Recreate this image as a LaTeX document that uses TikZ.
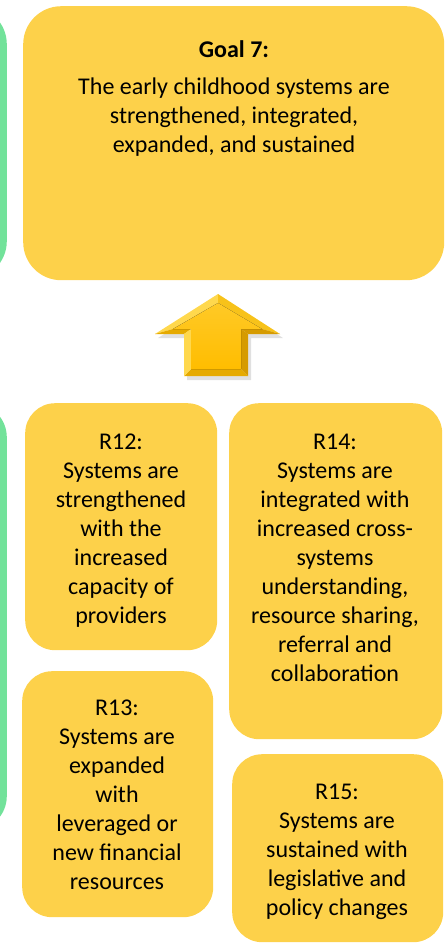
\documentclass[tikz,border=0pt]{standalone}
\usepackage{fontspec}
\setmainfont{Carlito}
\definecolor{boxyellow}{RGB}{253,209,74}
\definecolor{stripgreen}{RGB}{114,226,154}
\definecolor{arrlight}{RGB}{255,216,77}
\definecolor{arrmid}{RGB}{247,194,26}
\definecolor{arrdark}{RGB}{214,155,0}
\definecolor{arrdark2}{RGB}{230,170,0}
\definecolor{arrface}{RGB}{255,192,0}
\begin{document}
\begin{tikzpicture}[x=1pt,y=-1pt,
  ybox/.style={fill=boxyellow,draw=none,inner sep=0pt,anchor=north west},
  gstrip/.style={fill=stripgreen,draw=none,inner sep=0pt,anchor=north east,rounded corners=38pt,minimum width=120pt},
  txt/.style={font=\fontsize{24}{29}\selectfont,align=center,anchor=north,inner sep=0pt,text=black}]
\useasboundingbox (0,0) rectangle (445,943);
\clip (0,0) rectangle (445,943);
% green strips (partly cut off at the left)
\node[gstrip,minimum height=273pt] (g1) at (7,6) {};
\node[gstrip,minimum height=427pt,rounded corners=34pt] (g2) at (7,403) {};
% goal box
\node[ybox,rounded corners=38pt,minimum width=421pt,minimum height=274pt] (goal) at (23,6) {};
% result boxes
\node[ybox,rounded corners=30pt,minimum width=192pt,minimum height=247pt] (r12) at (25,403) {};
\node[ybox,rounded corners=30pt,minimum width=213pt,minimum height=336pt] (r14) at (229,403) {};
\node[ybox,rounded corners=30pt,minimum width=191pt,minimum height=246pt] (r13) at (22,671) {};
\node[ybox,rounded corners=30pt,minimum width=211pt,minimum height=188pt] (r15) at (232,754) {};
% texts
\node[txt] (goalt) at (234,40) {\textbf{Goal 7:}\\[8pt]The early childhood systems are\\strengthened, integrated,\\expanded, and sustained};
\node[txt] (r12t) at (121,434) {R12:\\Systems are\\strengthened\\with the\\increased\\capacity of\\providers};
\node[txt] (r14t) at (335,434) {R14:\\Systems are\\integrated with\\increased cross-\\systems\\understanding,\\resource sharing,\\referral and\\collaboration};
\node[txt] (r13t) at (117,700) {R13:\\Systems are\\expanded\\with\\leveraged or\\new financial\\resources};
\node[txt] (r15t) at (337,784) {R15:\\Systems are\\sustained with\\legislative and\\policy changes};
% block arrow (bevelled)
\coordinate (T) at (218,294);  \coordinate (R) at (280,334);
\coordinate (SR) at (248,334); \coordinate (BR) at (248,376);
\coordinate (BL) at (184,376); \coordinate (SL) at (184,334);
\coordinate (L) at (155,334);
\coordinate (iT) at (218,303); \coordinate (iR) at (262,329);
\coordinate (iSR) at (241,329); \coordinate (iBR) at (241,369);
\coordinate (iBL) at (191,369); \coordinate (iSL) at (191,329);
\coordinate (iL) at (173,329);
\fill[black,opacity=0.12] ([shift={(3,4)}]T) -- ([shift={(3,4)}]R) -- ([shift={(3,4)}]SR) -- ([shift={(3,4)}]BR) -- ([shift={(3,4)}]BL) -- ([shift={(3,4)}]SL) -- ([shift={(3,4)}]L) -- cycle;
\fill[arrlight] (L) -- (T) -- (iT) -- (iL) -- cycle;
\fill[arrmid] (T) -- (R) -- (iR) -- (iT) -- cycle;
\fill[arrdark] (R) -- (SR) -- (iSR) -- (iR) -- cycle;
\fill[arrdark2] (L) -- (iL) -- (iSL) -- (SL) -- cycle;
\fill[arrdark] (SR) -- (BR) -- (iBR) -- (iSR) -- cycle;
\fill[arrdark2] (BR) -- (BL) -- (iBL) -- (iBR) -- cycle;
\fill[arrlight] (BL) -- (SL) -- (iSL) -- (iBL) -- cycle;
\fill[top color=arrface!85!white,bottom color=arrface!95!orange] (iT) -- (iR) -- (iSR) -- (iBR) -- (iBL) -- (iSL) -- (iL) -- cycle;
\end{tikzpicture}
\end{document}
